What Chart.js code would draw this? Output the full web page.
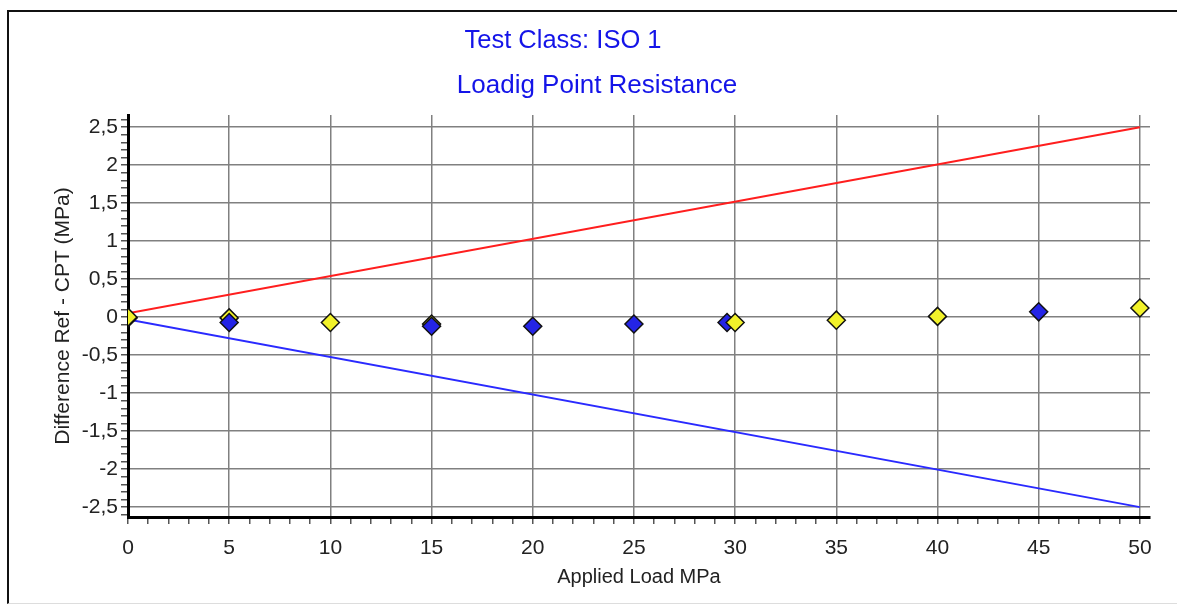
<!DOCTYPE html>
<html>
<head>
<meta charset="utf-8">
<script src="https://cdn.jsdelivr.net/npm/chart.js@4/dist/chart.umd.min.js"></script>
<style>
  body { margin: 0; background: #fff; }
  #wrap { position: relative; width: 1177px; height: 606px; overflow: hidden; }
  #frame { position: absolute; left: 7px; top: 10px; right: -4px; bottom: 2px;
           border-left: 2px solid #111; border-top: 2px solid #111; border-bottom: 1px solid #ddd; }
  .ttl { position: absolute; font-family: "Liberation Sans", Arial, sans-serif; font-size: 26px;
         color: #1414e8; white-space: nowrap; transform: translate(-50%, -50%); }
  canvas { position: absolute; left: 0; top: 0; }
</style>
</head>
<body>
<div id="wrap">
  <div id="frame"></div>
  <canvas id="chart" width="1177" height="606"></canvas>
  <div class="ttl" style="left:563px; top:39px; font-size:25.5px;">Test Class: ISO 1</div>
  <div class="ttl" style="left:597px; top:84px;">Loadig Point Resistance</div>
</div>
<script>
// tolerance limits (ISO class 1)
const limitLoad = [0, 50];
const upperLimit = [0.05, 2.5];
const lowerLimit = [-0.03, -2.5];

// measured differences, yellow markers partly hidden behind blue ones
const loadYellowBack = [5, 15];
const diffYellowBack = [-0.01, -0.09];

const loadBlue = [0, 5, 15, 20, 25, 29.6, 45];
const diffBlue = [-0.01, -0.07, -0.12, -0.12, -0.09, -0.07, 0.07];

const loadYellow = [0, 10, 30, 35, 40, 50];
const diffYellow = [0, -0.07, -0.07, -0.04, 0.01, 0.12];

const xMajor = [0, 5, 10, 15, 20, 25, 30, 35, 40, 45, 50];
const yMajor = [-2.5, -2, -1.5, -1, -0.5, 0, 0.5, 1, 1.5, 2, 2.5];

function pts(xs, ys) {
    return xs.map((x, i) => ({ x: x, y: ys[i] }));
}

function isMajorY(v) {
    return yMajor.some(m => Math.abs(m - v) < 1e-6);
}
function isMajorX(v) {
    return xMajor.some(m => Math.abs(m - v) < 1e-6);
}

const tickFont = { family: 'Liberation Sans', size: 21 };
const marker = {
    type: 'scatter',
    pointStyle: 'rectRot',
    pointRadius: 9,
    pointHoverRadius: 9,
    pointBorderColor: '#111',
    pointBorderWidth: 1.5,
};

new Chart(document.getElementById('chart').getContext('2d'), {
    type: 'scatter',
    data: {
        datasets: [
            Object.assign({}, marker, {
                label: 'Yellow',
                data: pts(loadYellow, diffYellow),
                pointBackgroundColor: '#f2f22a',
                order: 0,
            }),
            Object.assign({}, marker, {
                label: 'Blue',
                data: pts(loadBlue, diffBlue),
                pointBackgroundColor: '#2424e6',
                order: 1,
            }),
            Object.assign({}, marker, {
                label: 'Yellow (back)',
                data: pts(loadYellowBack, diffYellowBack),
                pointBackgroundColor: '#f2f22a',
                order: 2,
            }),
            {
                label: 'Upper limit',
                data: pts(limitLoad, upperLimit),
                showLine: true,
                borderColor: '#ff1e1e',
                borderWidth: 2,
                pointRadius: 0,
                order: 3,
            },
            {
                label: 'Lower limit',
                data: pts(limitLoad, lowerLimit),
                showLine: true,
                borderColor: '#2a2aff',
                borderWidth: 2,
                pointRadius: 0,
                order: 3,
            },
        ],
    },
    options: {
        responsive: false,
        animation: false,
        layout: { padding: { top: 115, right: 27, left: 0, bottom: 0 } },
        plugins: { legend: { display: false }, tooltip: { enabled: false } },
        scales: {
            x: {
                type: 'linear',
                min: 0,
                max: 50.5,
                afterFit: (scale) => { scale.height = 89; },
                border: { color: '#000', width: 3 },
                grid: {
                    color: (ctx) => isMajorX(ctx.tick.value) && ctx.tick.value > 0 ? '#808080' : 'rgba(0,0,0,0)',
                    lineWidth: 1.5,
                    tickColor: '#555',
                    tickLength: 7,
                },
                ticks: {
                    stepSize: 1,
                    includeBounds: false,
                    autoSkip: false,
                    maxRotation: 0,
                    padding: 12,
                    color: '#222',
                    font: tickFont,
                    callback: (v) => isMajorX(v) ? String(v) : '',
                },
                title: {
                    display: true,
                    text: 'Applied Load MPa',
                    color: '#222',
                    font: { family: 'Liberation Sans', size: 20 },
                    padding: { top: 0, bottom: 17 },
                },
            },
            y: {
                type: 'linear',
                min: -2.63,
                max: 2.66,
                afterFit: (scale) => { scale.width = 128; },
                border: { color: '#000', width: 3 },
                grid: {
                    color: (ctx) => isMajorY(ctx.tick.value) ? '#808080' : 'rgba(0,0,0,0)',
                    lineWidth: 1.5,
                    tickColor: '#555',
                    tickLength: 7,
                },
                ticks: {
                    stepSize: 0.1,
                    includeBounds: false,
                    autoSkip: false,
                    padding: 3,
                    color: '#222',
                    font: tickFont,
                    callback: (v) => isMajorY(v) ? String(Math.round(v * 10) / 10).replace('.', ',') : '',
                },
                title: {
                    display: true,
                    text: 'Difference Ref - CPT (MPa)',
                    color: '#222',
                    font: { family: 'Liberation Sans', size: 21 },
                    padding: { top: 51, bottom: 0 },
                },
            },
        },
    },
});
</script>
</body>
</html>
